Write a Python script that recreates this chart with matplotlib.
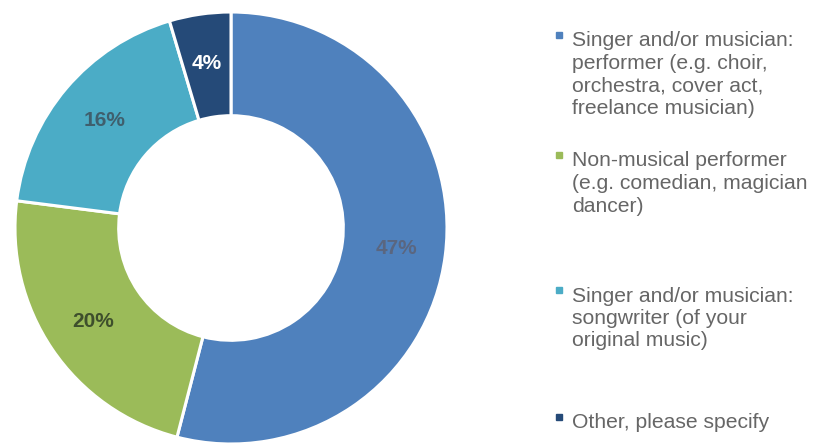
import numpy as np
import matplotlib.pyplot as plt

categories = [
    "Singer and/or musician:\nperformer (e.g. choir,\norchestra, cover act,\nfreelance musician)",
    "Non-musical performer\n(e.g. comedian, magician\ndancer)",
    "Singer and/or musician:\nsongwriter (of your\noriginal music)",
    "Other, please specify",
]
shares = [47, 20, 16, 4]
colors = ["#4f81bd", "#9bbb59", "#4bacc6", "#254a78"]
label_colors = ["#5a6680", "#3e4f2c", "#3f5f6d", "white"]

W, H = 814, 445
fig = plt.figure(figsize=(W / 100, H / 100), dpi=100)

# donut: centre at (231, 228) px from top-left, outer radius 216 px
cx, cy, r = 231, 228, 216
ax = fig.add_axes([(cx - r) / W, (H - cy - r) / H, 2 * r / W, 2 * r / H])
wedges, _ = ax.pie(shares, colors=colors, startangle=90, counterclock=False,
                   radius=1.0, wedgeprops=dict(width=0.48, edgecolor="white", linewidth=2.2))
for w in wedges:
    w.set_clip_on(False)
ax.set_xlim(-1, 1)
ax.set_ylim(-1, 1)
ax.set_aspect("equal")
ax.axis("off")

# percentage labels in the middle of each ring segment
for w, val, lc in zip(wedges, shares, label_colors):
    mid = np.deg2rad((w.theta1 + w.theta2) / 2)
    x, y = 0.77 * np.cos(mid), 0.77 * np.sin(mid)
    ax.text(x, y, f"{val}%", ha="center", va="center", fontsize=15,
            fontweight="bold", color=lc, family="Liberation Sans")

# legend built by hand: square marker + wrapped text lines
entry_tops = [41, 161, 296, 423]
pitch = 22.5
for cat, col, top in zip(categories, colors, entry_tops):
    fig.patches.append(plt.Rectangle((556 / W, (H - top + 3) / H), 6 / W, 6 / H,
                                     transform=fig.transFigure, color=col))
    for i, line in enumerate(cat.split("\n")):
        fig.text(572 / W, (H - top - i * pitch) / H, line, ha="left", va="center",
                 fontsize=15.2, color="#666666", family="Liberation Sans")

fig.savefig("out.png", dpi=100)
